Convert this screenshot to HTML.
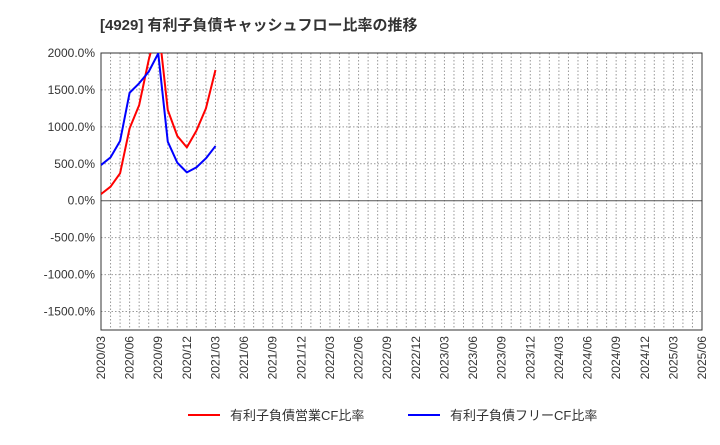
<!DOCTYPE html>
<html><head><meta charset="utf-8"><style>
body{margin:0;background:#fff;font-family:"Liberation Sans","Noto Sans CJK JP",sans-serif;}
</style></head><body>
<svg width="720" height="440" xmlns="http://www.w3.org/2000/svg" style="font-family:'Liberation Sans','Noto Sans CJK JP',sans-serif">
<text x="100" y="30" font-size="15" font-weight="bold" fill="#333">[4929]  有利子負債キャッシュフロー比率の推移</text>
<defs><clipPath id="pc"><rect x="101" y="53" width="601" height="277"/></clipPath></defs>
<g id="grid"></g>
<g id="axes"></g>
<g id="series" clip-path="url(#pc)"></g>
<g>
<line x1="188" y1="415" x2="220" y2="415" stroke="#f00" stroke-width="2"/>
<text x="230" y="420" font-size="13" fill="#333">有利子負債営業CF比率</text>
<line x1="408" y1="415" x2="440" y2="415" stroke="#00f" stroke-width="2"/>
<text x="450" y="420" font-size="13" fill="#333">有利子負債フリーCF比率</text>
</g>
</svg>
<script>
const yTicks=[2000,1500,1000,500,0,-500,-1000,-1500];
const xLabels=["2020/03","2020/06","2020/09","2020/12","2021/03","2021/06","2021/09","2021/12","2022/03","2022/06","2022/09","2022/12","2023/03","2023/06","2023/09","2023/12","2024/03","2024/06","2024/09","2024/12","2025/03","2025/06"];
const opCF=[90,190,371,980,1295,1905,2400,1228,876,722,948,1250,1770];
const freeCF=[483,587,808,1462,1590,1746,1995,799,514,384,452,574,740];
const NS="http://www.w3.org/2000/svg";
const X0=101,X1=702,Y0=53,Y1=330,YMAX=2000,YMIN=-1750,NM=63;
const xs=m=>X0+(X1-X0)*m/NM;
const ys=v=>Y0+(YMAX-v)*(Y1-Y0)/(YMAX-YMIN);
function mk(t,a,p){const e=document.createElementNS(NS,t);for(const k in a)e.setAttribute(k,a[k]);p.appendChild(e);return e;}
const grid=document.getElementById('grid'),axes=document.getElementById('axes'),ser=document.getElementById('series');
mk('rect',{x:X0,y:Y0,width:X1-X0,height:Y1-Y0,fill:'#fff'},grid);
for(let m=1;m<NM;m++){const l=mk('line',{x1:xs(m),x2:xs(m),y1:Y0,y2:Y1,stroke:'#999','stroke-width':1,'stroke-dasharray':'1.5,2'},grid);

}
yTicks.forEach(v=>{const y=ys(v);
const l=mk('line',{x1:X0,x2:X1,y1:y,y2:y,stroke:v===0?'#555':'#999','stroke-width':1,'stroke-dasharray':v===0?'none':'1.5,2'},grid);


const t=mk('text',{x:X0-6,y:y+4,'text-anchor':'end','font-size':12,fill:'#333'},axes);t.textContent=v.toFixed(1)+'%';

});
mk('rect',{x:X0,y:Y0,width:X1-X0,height:Y1-Y0,fill:'none',stroke:'#333'},axes);
xLabels.forEach((s,i)=>{const x=xs(i*3);const t=mk('text',{x:0,y:0,'text-anchor':'end','font-size':12,fill:'#333',transform:`translate(${x+4},${Y1+6}) rotate(-90)`},axes);t.textContent=s;

});
function line(d,c,n){const p=mk('polyline',{points:d.map((v,i)=>xs(i)+','+ys(v)).join(' '),fill:'none',stroke:c,'stroke-width':2,'stroke-linejoin':'round'},ser);

}
line(opCF,'#f00','operating-cf-line');
line(freeCF,'#00f','free-cf-line');
</script>
</body></html>
